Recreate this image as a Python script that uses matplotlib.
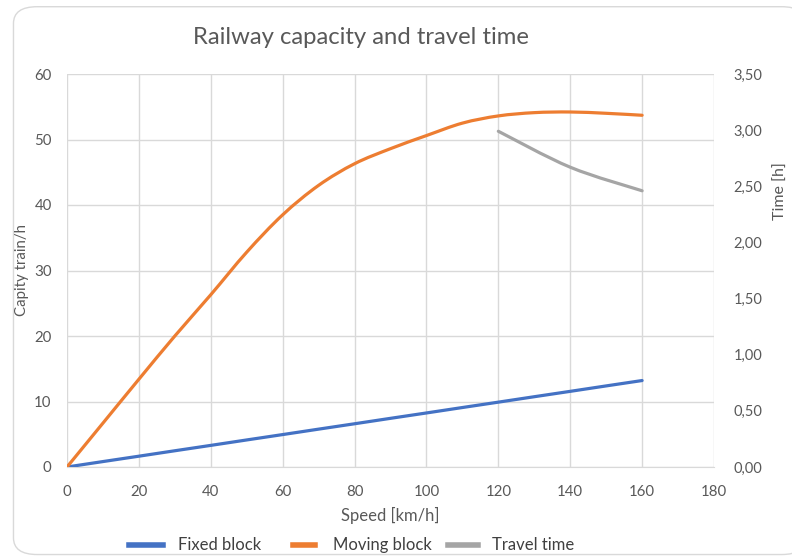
import matplotlib
matplotlib.use("Agg")
import matplotlib.pyplot as plt
from matplotlib.path import Path
from matplotlib.patches import PathPatch, FancyBboxPatch
from matplotlib.lines import Line2D

plt.rcParams['font.family'] = ['Lato', 'DejaVu Sans']

# data
speed = [0, 10, 20, 30, 40, 50, 60, 70, 80, 90, 100, 110, 120, 130, 140, 150, 160]
fixed_block = [0, 0.83, 1.65, 2.48, 3.3, 4.13, 4.95, 5.78, 6.6, 7.43, 8.25, 9.08, 9.9,
               10.73, 11.55, 12.38, 13.2]
moving_block = [0, 6.7, 13.4, 20.0, 26.3, 32.8, 38.5, 43.0, 46.3, 48.6, 50.6, 52.5,
                53.6, 54.1, 54.2, 54.0, 53.7]
tt_speed = [120, 140, 160]
travel_time = [2.99, 2.67, 2.46]

x_ticks = [0, 20, 40, 60, 80, 100, 120, 140, 160, 180]
left_ticks = [0, 10, 20, 30, 40, 50, 60]
right_ticks = [0, 0.5, 1.0, 1.5, 2.0, 2.5, 3.0, 3.5]
legend_names = ["Fixed block", "Moving block", "Travel time"]

BLUE = '#4472C4'
ORANGE = '#ED7D31'
GRAY = '#A5A5A5'
TXT = '#595959'
GRID = '#D9D9D9'


def smooth_patch(ax, xs, ys, color, lw):
    # excel style smoothed line, bezier through the points
    pts = list(zip(xs, ys))
    verts = [pts[0]]
    codes = [Path.MOVETO]
    n = len(pts)
    for i in range(n - 1):
        p0 = pts[i - 1] if i > 0 else pts[i]
        p1 = pts[i]
        p2 = pts[i + 1]
        p3 = pts[i + 2] if i + 2 < n else pts[i + 1]
        c1 = (p1[0] + (p2[0] - p0[0]) / 6, p1[1] + (p2[1] - p0[1]) / 6)
        c2 = (p2[0] - (p3[0] - p1[0]) / 6, p2[1] - (p3[1] - p1[1]) / 6)
        verts += [c1, c2, p2]
        codes += [Path.CURVE4] * 3
    patch = PathPatch(Path(verts, codes), fill=False, edgecolor=color,
                      lw=lw, capstyle='round', joinstyle='round', zorder=3)
    ax.add_patch(patch)


W, H = 792, 559
fig = plt.figure(figsize=(W / 100, H / 100), dpi=100)

# rounded chart border
border = FancyBboxPatch((0.017, 0.008), 1.0, 0.98, boxstyle="round,pad=0,rounding_size=0.03",
                        transform=fig.transFigure, facecolor='white', edgecolor='#D9D9D9',
                        lw=1.0, zorder=-5)
fig.patches.append(border)

ax = fig.add_axes([67 / W, 1 - 467 / H, (714 - 67) / W, (467 - 74) / H])
ax.set_xlim(0, 180)
ax.set_ylim(0, 60)
ax.set_xticks(x_ticks)
ax.set_yticks(left_ticks)
ax.grid(True, color=GRID, lw=1.0)
ax.set_axisbelow(True)
for s in ax.spines.values():
    s.set_visible(False)
ax.spines['bottom'].set_visible(True)
ax.spines['bottom'].set_color(GRID)
ax.tick_params(axis='y', length=0, labelsize=10.8, labelcolor=TXT, pad=11)
ax.tick_params(axis='x', length=0, labelsize=10.8, labelcolor=TXT, pad=13)
ax.patch.set_alpha(0)

smooth_patch(ax, speed, fixed_block, BLUE, 2.3)
smooth_patch(ax, speed, moving_block, ORANGE, 2.3)

ax2 = ax.twinx()
ax2.set_ylim(0, 3.5)
ax2.set_yticks(right_ticks)
ax2.set_yticklabels([f"{v:.2f}".replace('.', ',') for v in right_ticks])
for s in ax2.spines.values():
    s.set_visible(False)
ax2.tick_params(length=0, labelsize=10.5, labelcolor=TXT, pad=14)
smooth_patch(ax2, tt_speed, travel_time, GRAY, 2.3)

ax.set_xlabel("Speed [km/h]", fontsize=12, color=TXT, labelpad=6)
ax.set_ylabel("Capity train/h", fontsize=10.8, color=TXT, labelpad=4)
# right axis title placed by hand, the twin label kept landing on the ticks
fig.text(781 / W, 1 - 191 / H, "Time [h]", fontsize=11.5, color=TXT, rotation=90,
         ha='center', va='center')

fig.text(361 / W, 1 - 38 / H, "Railway capacity and travel time", fontsize=17.2, color=TXT,
         ha='center', va='center')

# legend drawn by hand so the short keys sit like the original
legend_colors = [BLUE, ORANGE, GRAY]
key_x = [(129, 163), (293, 315), (448, 478)]
text_x = [178, 333, 492]
ly = 1 - 545 / H
for (x0, x1), tx, name, c in zip(key_x, text_x, legend_names, legend_colors):
    fig.add_artist(Line2D([x0 / W, x1 / W], [ly, ly], color=c, lw=4,
                          transform=fig.transFigure))
    fig.text(tx / W, ly, name, fontsize=12, color='#404040', ha='left', va='center')

fig.savefig("out.png", dpi=100)
